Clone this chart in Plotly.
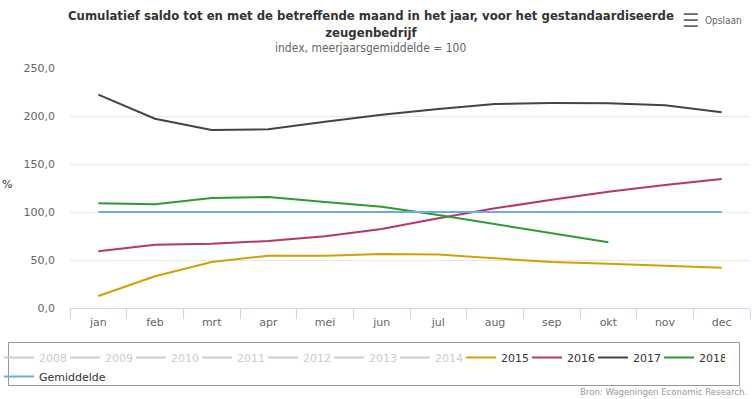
import plotly.graph_objects as go

months = ["jan", "feb", "mrt", "apr", "mei", "jun", "jul", "aug", "sep", "okt", "nov", "dec"]
hidden_years = ["2008", "2009", "2010", "2011", "2012", "2013", "2014"]
y2015 = [12.5, 33.0, 47.9, 54.5, 54.5, 56.2, 55.6, 51.4, 47.9, 46.2, 43.8, 42.0]
y2016 = [59.0, 66.0, 67.0, 69.8, 74.7, 82.3, 93.4, 103.8, 112.8, 121.2, 128.1, 134.4]
y2017 = [222.2, 197.2, 185.4, 186.1, 194.0, 201.4, 207.3, 212.5, 213.5, 213.2, 211.1, 203.8]
y2018 = [109.0, 108.0, 114.6, 115.6, 110.4, 105.5, 96.9, 87.2, 77.4, 68.4]
gemiddelde = [100, 100, 100, 100, 100, 100, 100, 100, 100, 100, 100, 100]

font = "DejaVu Sans"
cond = "DejaVu Sans Condensed"
W, H = 755, 399
L, R, T, B = 70, 5, 68, 91
PW, PH = W - L - R, H - T - B


def px(x):
    return (x - L) / PW


def py(y):
    return (H - B - y) / PH


fig = go.Figure()

for yr in hidden_years:
    fig.add_trace(go.Scatter(x=months, y=[None] * len(months), mode="lines",
                             name=f'<span style="color:#cccccc">{yr}</span>',
                             line=dict(color="#cccccc", width=2)))

series = [("2015", y2015, "#d4a000"), ("2016", y2016, "#b5366e"),
          ("2017", y2017, "#444444"), ("2018", y2018, "#2e9b2e"),
          ("Gemiddelde", gemiddelde, "#6aaee0")]
for name, ys, col in series:
    fig.add_trace(go.Scatter(x=months[:len(ys)], y=ys, mode="lines", name=name,
                             line=dict(color=col, width=2)))

fig.update_layout(
    width=W, height=H,
    margin=dict(l=L, r=R, t=T, b=B, autoexpand=False),
    paper_bgcolor="white", plot_bgcolor="white",
    separators=",.",
    font=dict(family=font, size=11, color="#333333"),
    showlegend=True,
    legend=dict(orientation="h", xref="paper", yref="paper", x=px(-1), y=py(343),
                xanchor="left", yanchor="top", borderwidth=0, bgcolor="rgba(0,0,0,0)",
                entrywidth=21, entrywidthmode="pixels", itemwidth=30,
                font=dict(family=font, size=11, color="#333333"), traceorder="normal",
                itemclick=False, itemdoubleclick=False),
    xaxis=dict(type="category", tickson="boundaries", ticks="outside", ticklen=10,
               tickcolor="#ccd6eb", showline=True, linecolor="#ccd6eb", linewidth=1,
               showgrid=False, tickfont=dict(color="#666666", size=11), range=[-0.5, 11.5],
               ticklabelstandoff=4, fixedrange=True),
    yaxis=dict(range=[0, 250], dtick=50, tickformat=".1f", showgrid=True, gridcolor="#e6e6e6",
               zeroline=False, tickfont=dict(color="#666666", size=11), ticks="",
               ticklabelstandoff=14, fixedrange=True),
)

# legend frame
fig.add_shape(type="rect", xref="paper", yref="paper", x0=px(8.5), x1=px(739.5),
              y0=py(342.5), y1=py(385.5), line=dict(color="#999999", width=1),
              fillcolor="rgba(0,0,0,0)", layer="below")

fig.add_annotation(text="<b>Cumulatief saldo tot en met de betreffende maand in het jaar, voor het gestandaardiseerde<br>zeugenbedrijf</b>",
                   xref="paper", yref="paper", x=px(371), y=py(6), xanchor="center", yanchor="top",
                   showarrow=False, font=dict(family=cond, size=13, color="#333333"))
fig.add_annotation(text="index, meerjaarsgemiddelde = 100", xref="paper", yref="paper",
                   x=px(370), y=py(48), xanchor="center", yanchor="middle", showarrow=False,
                   font=dict(family=cond, size=12, color="#666666"))
fig.add_annotation(text="%", xref="paper", yref="paper", x=px(0), y=py(184),
                   xanchor="left", yanchor="middle", showarrow=False,
                   font=dict(family=font, size=11, color="#333333"))
fig.add_annotation(text="<b>☰</b>", xref="paper", yref="paper", x=px(680), y=py(20),
                   xanchor="left", yanchor="middle", showarrow=False,
                   font=dict(family=font, size=19, color="#666666"))
fig.add_annotation(text="Opslaan", xref="paper", yref="paper", x=px(703), y=py(20),
                   xanchor="left", yanchor="middle", showarrow=False,
                   font=dict(family=cond, size=10, color="#666666"))
fig.add_annotation(text="Bron: Wageningen Economic Research.", xref="paper", yref="paper",
                   x=px(749), y=py(391), xanchor="right", yanchor="middle", showarrow=False,
                   font=dict(family=cond, size=9.5, color="#999999"))

fig.write_html("out.html", config=dict(displayModeBar=False),
               post_script="document.body.style.margin='0';document.body.style.overflow='hidden';")
